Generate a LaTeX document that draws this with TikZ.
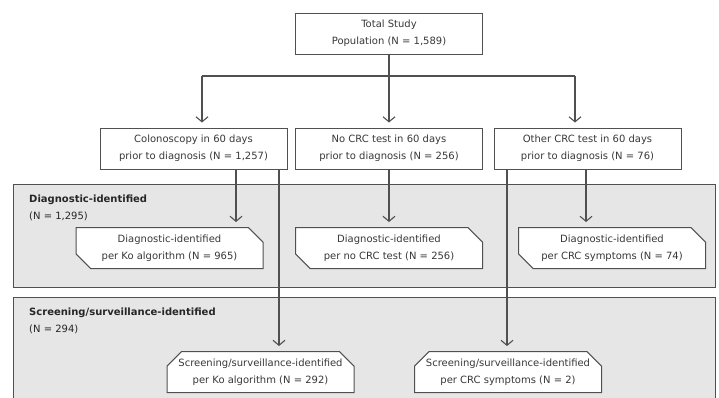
\documentclass[tikz,border=0pt]{standalone}
\usepackage{fontspec}
\setmainfont{DejaVu Sans}
\usetikzlibrary{arrows.meta,shapes.misc}
\definecolor{edgegray}{HTML}{505050}
\definecolor{textgray}{HTML}{383838}
\definecolor{panelgray}{HTML}{E6E6E6}
\tikzset{
  stagebox/.style={draw=edgegray, fill=white, line width=1pt, minimum width=187pt, minimum height=41pt,
    inner sep=0pt, align=center, text=textgray, font=\fontsize{10}{17}\selectfont},
  diagbox/.style={stagebox, chamfered rectangle, chamfered rectangle corners={north east,south west},
    chamfered rectangle xsep=11pt},
  screenbox/.style={stagebox, chamfered rectangle, chamfered rectangle corners={north west,north east},
    chamfered rectangle xsep=11pt},
  panel/.style={draw=edgegray, fill=panelgray, line width=1.1pt, inner sep=0pt, anchor=north west},
  paneltitle/.style={anchor=base west, inner sep=0pt, align=left, text=black!85, font=\fontsize{10}{17}\selectfont},
  flow/.style={draw=edgegray, line width=1.1pt},
  flowarrow/.style={flow, -{Straight Barb[length=5pt,width=12pt]}, shorten >=5pt},
}
\begin{document}
\begin{tikzpicture}[x=1pt,y=-1pt]
\clip (0,0) rectangle (719,397);
% grey panels
\node[panel, minimum width=702pt, minimum height=103pt] (diagpanel) at (13,184) {};
\node[panel, minimum width=702pt, minimum height=130pt] (scrpanel) at (13,297) {};
\node[paneltitle] (diagtitle) at ([xshift=16pt,yshift=-35pt]diagpanel.north west) {\textbf{Diagnostic-identified}\\(N = 1,295)};
\node[paneltitle] (scrtitle) at ([xshift=16pt,yshift=-35pt]scrpanel.north west) {\textbf{Screening/surveillance-identified}\\(N = 294)};
% boxes
\node[stagebox] (total) at (389,33.5) {Total Study\\Population (N = 1,589)};
\node[stagebox] (colo) at (193.5,148.5) {Colonoscopy in 60 days\\prior to diagnosis (N = 1,257)};
\node[stagebox] (notest) at (389,148.5) {No CRC test in 60 days\\prior to diagnosis (N = 256)};
\node[stagebox] (other) at (587.5,148.5) {Other CRC test in 60 days\\prior to diagnosis (N = 76)};
\node[diagbox] (diagko) at (169.5,248) {Diagnostic-identified\\per Ko algorithm (N = 965)};
\node[diagbox] (diagnone) at (389,248) {Diagnostic-identified\\per no CRC test (N = 256)};
\node[diagbox] (diagsym) at (612,248) {Diagnostic-identified\\per CRC symptoms (N = 74)};
\node[screenbox] (scrko) at (260.5,372) {Screening/surveillance-identified\\per Ko algorithm (N = 292)};
\node[screenbox] (scrsym) at (508,372) {Screening/surveillance-identified\\per CRC symptoms (N = 2)};
% connectors
\coordinate (split) at ([yshift=-22pt]total.south);
\coordinate (splitl) at (202,76);
\coordinate (splitr) at (575,76);
\coordinate (coloa) at ([xshift=42.5pt]colo.south);
\coordinate (colob) at ([xshift=85.5pt]colo.south);
\coordinate (othera) at ([xshift=-80.5pt]other.south);
\coordinate (otherb) at ([xshift=-1.5pt]other.south);
\draw[flow] (total.south) -- (split);
\draw[flow] (splitl) -- (splitr);
\draw[flowarrow] (split) -- (notest.north);
\draw[flowarrow] (splitl) -- (splitl |- colo.north);
\draw[flowarrow] (splitr) -- (splitr |- other.north);
\draw[flowarrow] (coloa) -- (coloa |- diagko.north);
\draw[flowarrow] (colob) -- (colob |- scrko.north);
\draw[flowarrow] (notest.south) -- (diagnone.north);
\draw[flowarrow] (othera) -- (othera |- scrsym.north);
\draw[flowarrow] (otherb) -- (otherb |- diagsym.north);
\end{tikzpicture}
\end{document}
